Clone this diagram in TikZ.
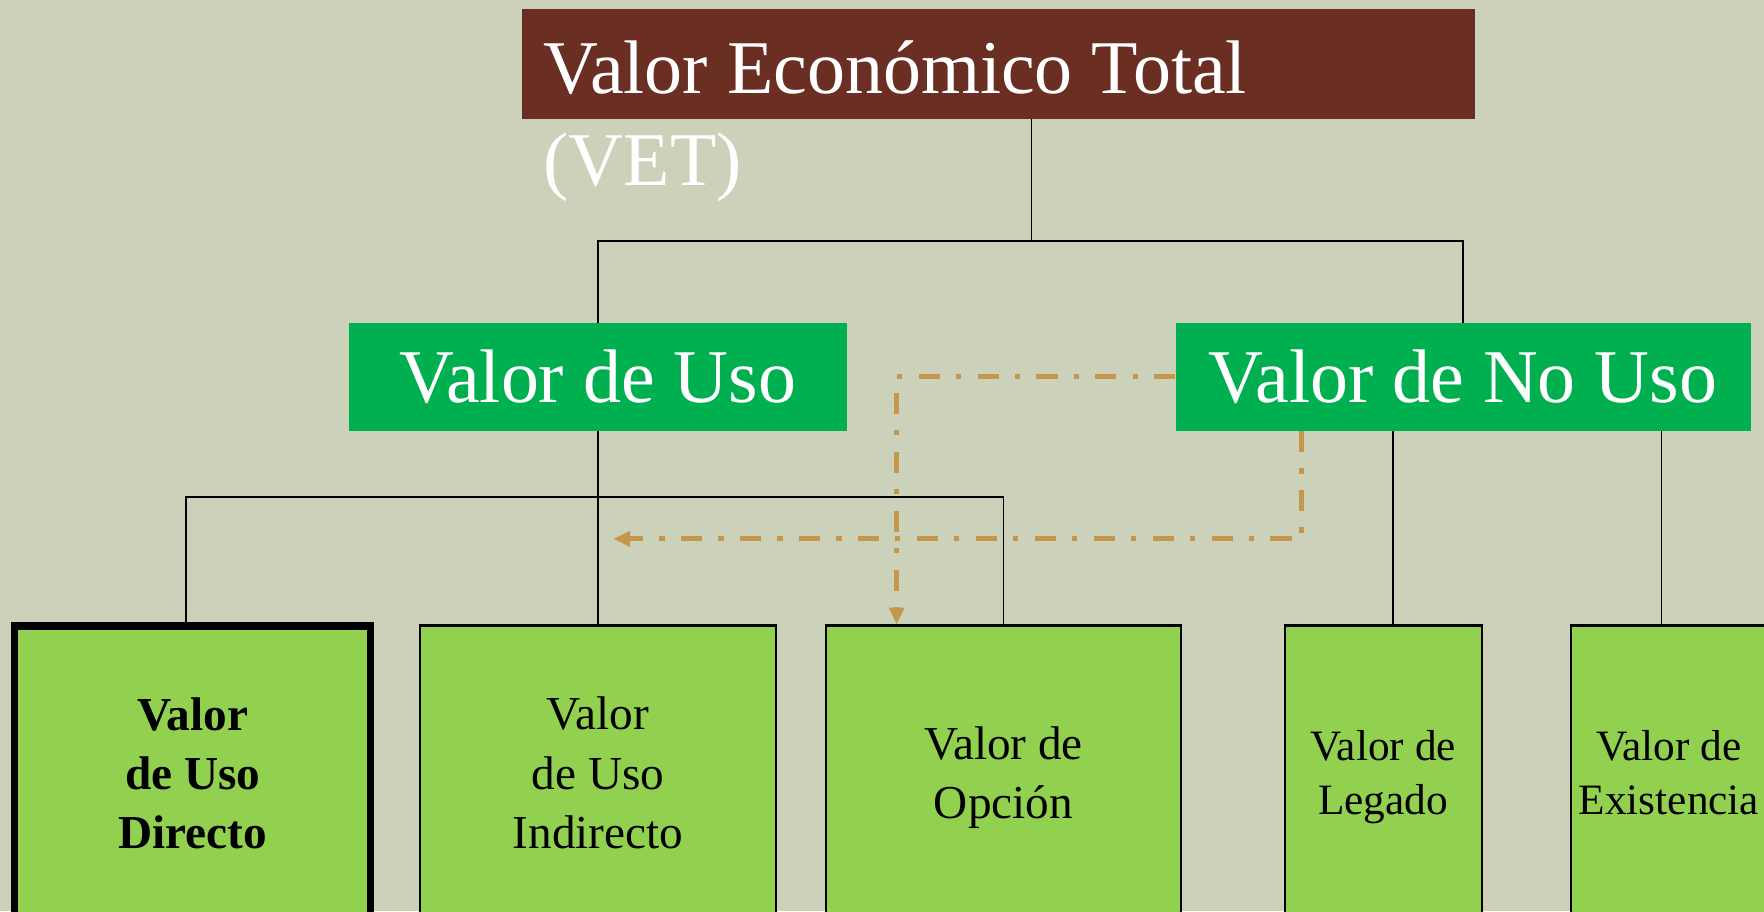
\documentclass[tikz,border=0pt]{standalone}
\usepackage{fontspec}
\setmainfont{Liberation Serif}
\usetikzlibrary{arrows.meta}
\definecolor{bgc}{RGB}{204,209,185}
\definecolor{brownc}{RGB}{106,47,34}
\definecolor{greenc}{RGB}{0,176,80}
\definecolor{lgreenc}{RGB}{146,208,80}
\definecolor{dashc}{RGB}{196,151,76}
\tikzset{
  topbox/.style={rectangle, fill=brownc, inner sep=0pt, minimum width=847pt, minimum height=98pt},
  midbox/.style={rectangle, fill=greenc, text=white, inner sep=0pt, minimum height=96pt,
    font=\fontsize{67.5}{83}\selectfont},
  lowbox/.style={rectangle, fill=lgreenc, draw=black, line width=1.8pt, inner sep=0pt,
    minimum height=262pt, align=center, font=\fontsize{42}{52.5}\selectfont},
  narrowbox/.style={lowbox, minimum width=175pt, font=\fontsize{38.5}{48}\selectfont},
  conn/.style={draw=black, line width=1.4pt},
  dashline/.style={draw=dashc, line width=4.3pt, dash pattern=on 18.7pt off 14.5pt on 4.7pt off 14.5pt,
    -{Triangle[length=15pt,width=13pt]}}
}
\begin{document}
\begin{tikzpicture}[x=1pt,y=-1pt]
\useasboundingbox (0,0) rectangle (1568,809.8);
\fill[bgc] (0,0) rectangle (1568,809.8);

% top
\node[topbox] (vet) at (887.5,57) {};
\node[anchor=base west, inner sep=0pt, text=white, font=\fontsize{67.5}{82}\selectfont] (vettext) at (483,83)
  {\begin{tabular}[t]{@{}l@{}}Valor Económico Total\\(VET)\end{tabular}};

% middle
\node[midbox, minimum width=443pt] (uso) at (531.5,335) {Valor de Uso};
\node[midbox, minimum width=511pt] (nouso) at (1300.5,335) {Valor de No Uso};

% bottom
\node[lowbox, minimum width=316.5pt, line width=6.5pt, font=\bfseries\fontsize{42}{52.5}\selectfont] (directo) at (171.25,687.5) {Valor\\de Uso\\Directo};
\node[lowbox, minimum width=317pt] (indirecto) at (531.5,687) {Valor\\de Uso\\Indirecto};
\node[lowbox, minimum width=316pt, text depth=0pt] (opcion) at (892,687) {Valor de\\Opción\rule[-12pt]{0pt}{1pt}};
\node[narrowbox, text depth=0pt] (legado) at (1229.5,687) {Valor de\\Legado};
\node[narrowbox] (existencia) at (1483.5,687) {Valor de\\Existencia};

% connectors
\coordinate (bus1) at (917,214);
\coordinate (bus2) at (0,442);
\coordinate (usotip) at (545,479);
\draw[conn] (vet.south -| bus1) -- (bus1);
\draw[conn] (uso.north) |- (bus1) -| (nouso.north);
\draw[conn] (uso.south) -- (indirecto.north);
\draw[conn] ([xshift=-6pt]directo.north) |- (opcion.north |- bus2) -- (opcion.north);
\draw[conn] ([xshift=8.5pt]legado.north |- nouso.south) -- ([xshift=8.5pt]legado.north);
\draw[conn] ([xshift=-6.5pt]existencia.north |- nouso.south) -- ([xshift=-6.5pt]existencia.north);

% dashed
\draw[dashline] (nouso.west) -| ([xshift=-95pt]opcion.north);
\draw[dashline] ([xshift=-143.5pt]nouso.south) |- (usotip);
\end{tikzpicture}
\end{document}
